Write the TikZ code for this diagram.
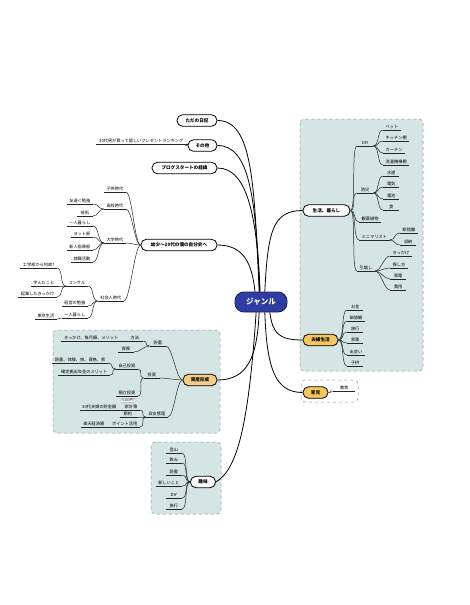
\documentclass[tikz,border=0pt]{standalone}
\usepackage{fontspec}
\setmainfont{Noto Sans CJK JP}
\usepackage{tikz}
\definecolor{genreblue}{HTML}{2F3DA2}
\definecolor{goldfill}{HTML}{F4C75E}
\definecolor{amberfill}{HTML}{F3CD8C}
\definecolor{areafill}{HTML}{D4E5E4}
\definecolor{arealine}{HTML}{7A9A98}

\begin{document}
\begin{tikzpicture}[x=1pt,y=1pt,
  genre/.style={fill=genreblue,draw=genreblue!55!black,line width=0.9pt,rounded corners=9pt,text=white,
    font=\fontsize{7.5}{8}\selectfont\bfseries,minimum width=52pt,minimum height=20pt},
  topic/.style={draw,fill=white,line width=0.8pt,rounded corners=5.5pt,
    font=\fontsize{4.6}{5}\selectfont\bfseries,minimum height=11.5pt,inner xsep=5pt,inner ysep=1pt},
  goldtopic/.style={topic,fill=goldfill},
  ambertopic/.style={topic,fill=amberfill},
  leaf/.style={font=\fontsize{4.2}{5}\selectfont,inner sep=1pt,inner xsep=2.5pt,minimum width=16pt,
    append after command={(\tikzlastnode.south west) edge[branch] (\tikzlastnode.south east)}},
  branch/.style={line width=0.5pt,black!85},
  trunk/.style={line width=0.8pt,black},
  toleft/.style={to path={.. controls +(-6,0) and +(6,0) .. (\tikztotarget)}},
  toright/.style={to path={.. controls +(6,0) and +(-6,0) .. (\tikztotarget)}},
  area/.style={draw=arealine,dashed,fill=areafill,rounded corners=4pt,line width=0.5pt},
  tagbox/.style={draw=black!35,fill=white,rounded corners=1pt,font=\fontsize{3}{3.5}\selectfont,inner sep=0.8pt}
]
\useasboundingbox (0,0) rectangle (469,-605);
\fill[white] (0,0) rectangle (469,-605);

\draw[area] (300,-119) rectangle (423,-371);
\draw[area] (53,-330) rectangle (220,-433);
\draw[area] (151,-442) rectangle (221,-514);
\draw[draw=black!45,dashed,rounded corners=4pt,line width=0.5pt] (301,-380) rectangle (358,-402);

\node[genre] (genre) at (261,-302) {ジャンル};

\node[topic,minimum width=40pt] (diary) at (197,-120.5) {ただの日記};
\node[topic,minimum width=29pt] (sonota) at (202.5,-145.5) {その他};
\node[topic,minimum width=65pt] (blog) at (184.5,-168) {ブログスタートの経緯};
\node[topic,minimum width=76pt] (jibun) at (179,-245) {幼少～20代の僕の自分史へ};
\node[topic,minimum width=47pt] (seikatsu) at (326.5,-210.5) {生活、暮らし};
\node[goldtopic,minimum width=35pt] (fuufu) at (320.5,-340) {夫婦生活};
\node[goldtopic,minimum width=25pt] (ikuji) at (315.5,-392.5) {育児};
\node[ambertopic,minimum width=34pt] (shisan) at (200,-380) {資産形成};
\node[topic,minimum width=25pt] (shumi) at (203,-482) {趣味};

\draw[trunk] (genre.100) .. controls +(-5,110) and +(35,0) .. (diary.east);
\draw[trunk] (genre.97) .. controls +(-4,95) and +(32,0) .. (sonota.east);
\draw[trunk] (genre.95) .. controls +(-3,75) and +(30,0) .. (blog.east);
\draw[trunk] (genre.120) .. controls +(-3,30) and +(25,0) .. (jibun.east);
\draw[trunk] (genre.70) .. controls +(3,60) and +(-30,0) .. (seikatsu.west);
\draw[trunk] (genre.-50) .. controls +(3,-20) and +(-25,0) .. (fuufu.west);
\draw[trunk] (genre.-70) .. controls +(2,-55) and +(-28,0) .. (ikuji.west);
\draw[trunk] (genre.-100) .. controls +(-2,-45) and +(30,0) .. (shisan.east);
\draw[trunk] (genre.-115) .. controls +(-8,-120) and +(20,12) .. (shumi.east);

\node[leaf,anchor=south east] (present) at (186,-144) {30代男が貰って嬉しいプレゼントランキング};
\draw[branch] (sonota.west) to[toleft] (present.south east);

\node[leaf,anchor=south east] (kodomo) at (126,-192) {子供時代};
\node[leaf,anchor=south east] (koukou) at (126,-209) {高校時代};
\node[leaf,anchor=south east] (tomodachi) at (93,-204) {友達＜勉強};
\node[leaf,anchor=south east] (gijutsu) at (93,-216) {技術};
\node[leaf,anchor=south east] (daigaku) at (126,-243) {大学時代};
\node[leaf,anchor=south east] (hitori) at (93,-226) {一人暮らし};
\node[leaf,anchor=south east] (yotto) at (93,-237) {ヨット部};
\node[leaf,anchor=south east] (shinjin) at (93,-250) {新人指導部};
\node[leaf,anchor=south east] (shushoku) at (93,-262) {就職活動};
\node[leaf,anchor=south east] (shakai) at (124,-301) {社会人時代};
\node[leaf,anchor=south east] (consul) at (88,-286) {コンサル};
\node[leaf,anchor=south east] (keiei) at (88,-306) {経営の勉強};
\node[leaf,anchor=south east] (hitori2) at (88,-318) {一人暮らし};
\node[leaf,anchor=south east] (kougaku) at (57,-268) {工学部から何故?};
\node[leaf,anchor=south east] (manabi) at (57,-286) {学んだこと};
\node[leaf,anchor=south east] (kigyou) at (57,-297) {起業したきっかけ};
\node[leaf,anchor=south east] (tokyo) at (57,-319) {東京生活};

\foreach \c in {kodomo,koukou,daigaku,shakai}
  \draw[branch] (jibun.west) to[toleft] (\c.south east);
\foreach \c in {tomodachi,gijutsu}
  \draw[branch] (koukou.south west) to[toleft] (\c.south east);
\foreach \c in {hitori,yotto,shinjin,shushoku}
  \draw[branch] (daigaku.south west) to[toleft] (\c.south east);
\foreach \c in {consul,keiei,hitori2}
  \draw[branch] (shakai.south west) to[toleft] (\c.south east);
\foreach \c in {kougaku,manabi,kigyou}
  \draw[branch] (consul.south west) to[toleft] (\c.south east);
\draw[branch] (hitori2.south west) to[toleft] (tokyo.south east);

\node[leaf,anchor=south west] (diy) at (357,-146) {DIY};
\node[leaf,anchor=south west] (pet) at (383,-130) {ペット};
\node[leaf,anchor=south west] (kitchen) at (383,-141) {キッチン棚};
\node[leaf,anchor=south west] (curtain) at (383,-153) {カーテン};
\node[leaf,anchor=south west] (sentaku) at (383,-165) {洗濯機横棚};
\node[leaf,anchor=south west] (bousai) at (357,-193) {防災};
\node[leaf,anchor=south west] (suidou) at (383,-176) {水道};
\node[leaf,anchor=south west] (denki) at (383,-187) {電気};
\node[leaf,anchor=south west] (denchi) at (383,-199) {電池};
\node[leaf,anchor=south west] (shoku) at (383,-210) {食};
\node[leaf,anchor=south west] (kanyou) at (359,-222) {観葉植物};
\node[leaf,anchor=south west] (minimal) at (359,-240) {ミニマリスト};
\node[leaf,anchor=south west] (danshari) at (400,-233) {断捨離};
\node[leaf,anchor=south west] (shuunou) at (400,-245) {収納};
\node[leaf,anchor=south west] (hikkoshi) at (357,-271) {引越し};
\node[leaf,anchor=south west] (kikkake) at (390,-256) {きっかけ};
\node[leaf,anchor=south west] (sagashi) at (390,-268) {探し方};
\node[leaf,anchor=south west] (kaden) at (390,-279) {家電};
\node[leaf,anchor=south west] (hiyou) at (390,-290) {費用};

\foreach \c in {diy,bousai,kanyou,minimal,hikkoshi}
  \draw[branch] (seikatsu.east) to[toright] (\c.south west);
\foreach \c in {pet,kitchen,curtain,sentaku}
  \draw[branch] (diy.south east) to[toright] (\c.south west);
\foreach \c in {suidou,denki,denchi,shoku}
  \draw[branch] (bousai.south east) to[toright] (\c.south west);
\foreach \c in {danshari,shuunou}
  \draw[branch] (minimal.south east) to[toright] (\c.south west);
\foreach \c in {kikkake,sagashi,kaden,hiyou}
  \draw[branch] (hikkoshi.south east) to[toright] (\c.south west);

\node[leaf,anchor=south west] (okane) at (347,-310) {お金};
\node[leaf,anchor=south west] (kachikan) at (347,-321) {価値観};
\node[leaf,anchor=south west] (ryokou) at (347,-332) {旅行};
\node[leaf,anchor=south west] (kaji) at (347,-343) {家事};
\node[leaf,anchor=south west] (deai) at (347,-355) {出会い};
\node[leaf,anchor=south west] (kodomo2) at (347,-366) {子供};
\foreach \c in {okane,kachikan,ryokou,kaji,deai,kodomo2}
  \draw[branch] (fuufu.east) to[toright] (\c.south west);

\node[leaf,anchor=south west,minimum width=22pt] (kyouiku) at (333,-391) {教育};
\draw[branch] (ikuji.east) to[toright] (kyouiku.south west);

\node[leaf,anchor=south east] (chochiku) at (166,-346) {貯蓄};
\node[leaf,anchor=south east] (houhou) at (143,-341) {方法};
\node[leaf,anchor=south east] (maitsuki) at (121,-341) {きっかけ、毎月額、メリット};
\node[leaf,anchor=south east] (hoken) at (134,-352) {保険};
\node[leaf,anchor=south east] (toushi) at (160,-378) {投資};
\node[leaf,anchor=south east] (jiko) at (138,-369) {自己投資};
\node[leaf,anchor=south east] (dokusho) at (108,-363) {読書、体験、旅、資格、家};
\node[leaf,anchor=south east] (kakutei) at (110,-375) {確定拠出年金のメリット};
\node[leaf,anchor=south east] (tsumitate) at (138,-396) {積立投資};
\node[tagbox] (sengen) at (128,-400.5) {<1000円>};
\node[leaf,anchor=south east] (shushi) at (168,-417) {収支管理};
\node[leaf,anchor=south east] (kakeibo) at (140,-410) {家計簿};
\node[leaf,anchor=south east] (chokin) at (119,-410) {30代夫婦の貯金額};
\node[leaf,anchor=south east] (setsuyaku) at (136,-417) {節約};
\node[leaf,anchor=south east] (point) at (140,-427) {ポイント活用};
\node[leaf,anchor=south east] (rakuten) at (107,-427) {楽天経済圏};

\foreach \c in {chochiku,toushi,shushi}
  \draw[branch] (shisan.west) to[toleft] (\c.south east);
\foreach \c in {houhou,hoken}
  \draw[branch] (chochiku.south west) to[toleft] (\c.south east);
\draw[branch] (houhou.south west) -- (maitsuki.south east);
\foreach \c in {jiko,tsumitate}
  \draw[branch] (toushi.south west) to[toleft] (\c.south east);
\foreach \c in {dokusho,kakutei}
  \draw[branch] (jiko.south west) to[toleft] (\c.south east);
\foreach \c in {kakeibo,setsuyaku,point}
  \draw[branch] (shushi.south west) to[toleft] (\c.south east);
\draw[branch] (kakeibo.south west) to[toleft] (chokin.south east);
\draw[branch] (point.south west) to[toleft] (rakuten.south east);

\node[leaf,anchor=south east] (tozan) at (182,-453) {登山};
\node[leaf,anchor=south east] (nomi) at (182,-463) {飲み};
\node[leaf,anchor=south east] (dokusho2) at (182,-475) {読書};
\node[leaf,anchor=south east] (atarashii) at (182,-486) {新しいこと};
\node[leaf,anchor=south east] (diy2) at (182,-498) {DIY};
\node[leaf,anchor=south east] (tabi) at (182,-509) {旅行};
\foreach \c in {tozan,nomi,dokusho2,atarashii,diy2,tabi}
  \draw[branch] (shumi.west) to[toleft] (\c.south east);
\end{tikzpicture}
\end{document}
